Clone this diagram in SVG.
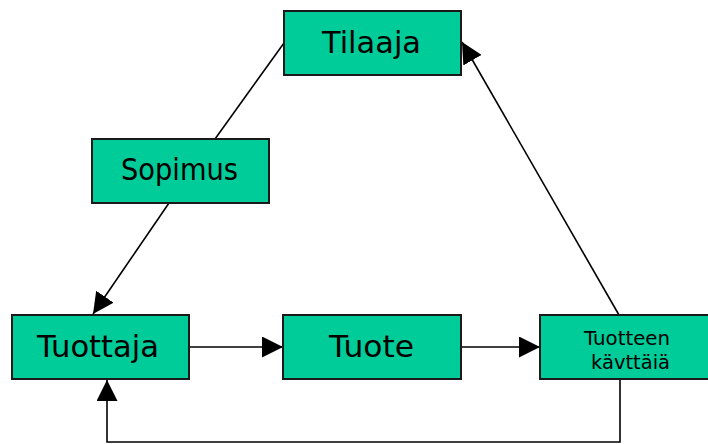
<svg xmlns="http://www.w3.org/2000/svg" width="708" height="444" viewBox="0 0 708 444">
  <style>
    .box { fill: #00CC99; stroke: #1a1a1a; stroke-width: 2; }
    .lbl { font-family: "DejaVu Sans", Verdana, sans-serif; font-size: 30px; fill: #000; }
    .sm { font-family: "DejaVu Sans", Verdana, sans-serif; font-size: 19px; fill: #000; }
    .wire { fill: none; stroke: #000; stroke-width: 1.6; }
  </style>
  <defs>
    <marker id="arrow" viewBox="0 0 10 10" refX="10" refY="5" markerWidth="21" markerHeight="21" markerUnits="userSpaceOnUse" orient="auto">
      <path d="M0,0 L10,5 L0,10 Z" fill="#000"/>
    </marker>
  </defs>

  <g id="connectors">
    <line class="wire" x1="284" y1="43" x2="215" y2="139"/>
    <line class="wire" x1="169" y1="203" x2="93" y2="314" marker-end="url(#arrow)"/>
    <line class="wire" x1="189" y1="347" x2="283" y2="347" marker-end="url(#arrow)"/>
    <line class="wire" x1="461" y1="347" x2="540" y2="347" marker-end="url(#arrow)"/>
    <line class="wire" x1="619" y1="315" x2="462" y2="42" marker-end="url(#arrow)"/>
    <polyline class="wire" points="620,380 620,442 107,442 107,380" marker-end="url(#arrow)"/>
  </g>

  <g id="tilaaja">
    <rect class="box" x="284" y="11" width="177" height="64"/>
    <text class="lbl" x="322" y="53" textLength="99" lengthAdjust="spacingAndGlyphs">Tilaaja</text>
  </g>
  <g id="sopimus">
    <rect class="box" x="92" y="139" width="177" height="64"/>
    <text class="lbl" x="121" y="180" textLength="117" lengthAdjust="spacingAndGlyphs">Sopimus</text>
  </g>
  <g id="tuottaja">
    <rect class="box" x="12" y="315" width="177" height="64"/>
    <text class="lbl" x="37" y="357" textLength="122" lengthAdjust="spacingAndGlyphs">Tuottaja</text>
  </g>
  <g id="tuote">
    <rect class="box" x="283" y="315" width="178" height="64"/>
    <text class="lbl" x="329" y="357" textLength="85" lengthAdjust="spacingAndGlyphs">Tuote</text>
  </g>
  <g id="tuotteen-kayttaja">
    <rect class="box" x="540" y="315" width="172" height="64"/>
    <text class="sm" x="584" y="345" textLength="86" lengthAdjust="spacingAndGlyphs">Tuotteen</text>
    <text class="sm" x="591" y="369" textLength="79" lengthAdjust="spacingAndGlyphs">kävttäiä</text>
  </g>
</svg>
